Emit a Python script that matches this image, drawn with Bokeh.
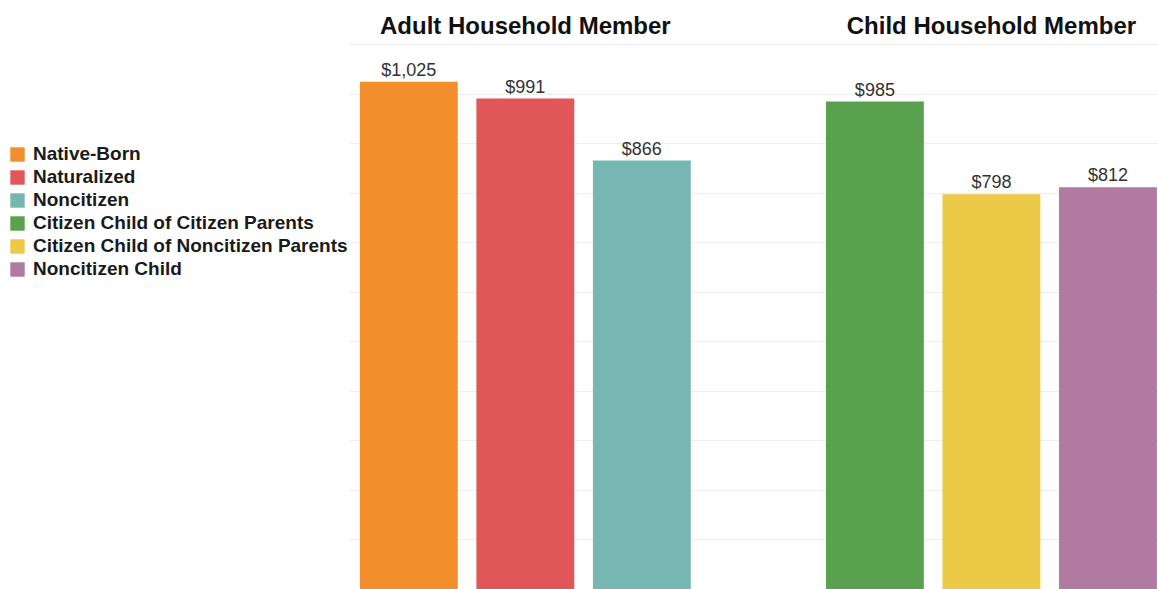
from bokeh.plotting import figure
from bokeh.models import ColumnDataSource, Range1d, Grid, FixedTicker, Label, Legend, LegendItem
from bokeh.layouts import row
from bokeh.embed import file_html
from bokeh.resources import INLINE
from bokeh.core.properties import value

# ---- data ----
groups = ["Adult Household Member", "Child Household Member"]
adult_categories = ["Native-Born", "Naturalized", "Noncitizen"]
child_categories = ["Citizen Child of Citizen Parents", "Citizen Child of Noncitizen Parents", "Noncitizen Child"]
adult_values = [1025, 991, 866]
child_values = [985, 798, 812]
colors = ["#F28E2B", "#E15759", "#76B7B2", "#59A14F", "#EDC948", "#B07AA1"]
grid_ticks = [100, 200, 300, 400, 500, 600, 700, 800, 900, 1000, 1100]

FONT = "Liberation Sans"

# ---- build table ----
group_values = [adult_values, child_values]
group_cats = [adult_categories, child_categories]
xs, vals, cats, labels = [], [], [], []
for gi, (gc, gv) in enumerate(zip(group_cats, group_values)):
    for j, (c, v) in enumerate(zip(gc, gv)):
        xs.append(gi * 4 + j)
        vals.append(v)
        cats.append(c)
        labels.append("${:,}".format(v))
src = ColumnDataSource(dict(x=xs, value=vals, cat=cats, label=labels, color=colors))

# ---- chart figure ----
p = figure(width=809, height=589, x_range=Range1d(-0.509, 6.434), y_range=Range1d(0, 1189),
           x_axis_type=None, y_axis_type=None, toolbar_location=None, output_backend="svg",
           min_border=0, outline_line_color=None)
p.add_layout(Grid(dimension=1, ticker=FixedTicker(ticks=grid_ticks),
                  grid_line_color="#eeeeee", grid_line_width=1))
p.vbar(x="x", top="value", width=0.84, fill_color="color", line_color=None, source=src)
p.text(x="x", y="value", text="label", text_align="center", text_baseline="alphabetic",
       y_offset=-12, text_font=value(FONT), text_font_size="18px", text_color="#333333",
       source=src)
for gi, g in enumerate(groups):
    p.add_layout(Label(x=gi * 4 + 1, y=564, y_units="screen", text=g, text_align="center",
                       text_baseline="alphabetic", text_font=FONT, text_font_size="24px",
                       text_font_style="bold", text_color="#111111"))

# ---- legend figure ----
p0 = figure(width=349, height=589, x_range=Range1d(0, 1), y_range=Range1d(0, 1),
            x_axis_type=None, y_axis_type=None, toolbar_location=None, output_backend="svg",
            min_border=0, outline_line_color=None)
all_cats = adult_categories + child_categories
items = []
for c, col in zip(all_cats, colors):
    # swatch renderer kept outside the visible range; only used for the legend glyph
    r = p0.vbar(x=[5], top=[1], width=1, fill_color=col, line_color=None)
    items.append(LegendItem(label=c, renderers=[r]))
legend = Legend(items=items, location=(8, 309), padding=0, margin=0, spacing=1,
                glyph_width=18, glyph_height=18, label_height=21, label_standoff=7,
                label_text_font=FONT, label_text_font_size="19px", label_text_font_style="bold",
                label_text_color="#1a1a1a", border_line_color=None, background_fill_alpha=0)
p0.add_layout(legend)

layout = row(p0, p)
open("out.html", "w").write(file_html(layout, INLINE))
